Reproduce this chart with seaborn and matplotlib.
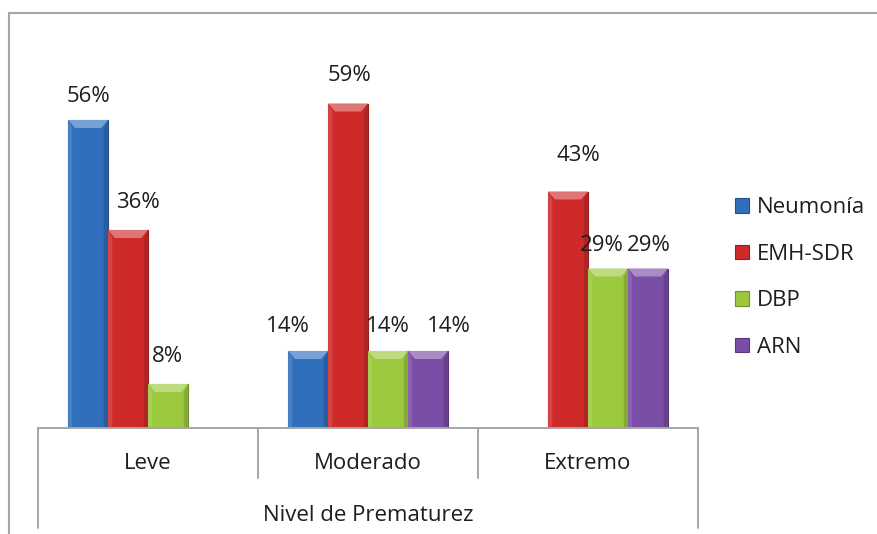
import matplotlib
matplotlib.use("Agg")
import matplotlib.pyplot as plt
from matplotlib.patches import Polygon
from matplotlib.lines import Line2D
import matplotlib.colors as mcolors
import seaborn as sns
import pandas as pd

# ---- data -------------------------------------------------------------
categories = ["Leve", "Moderado", "Extremo"]
series = ["Neumonía", "EMH-SDR", "DBP", "ARN"]
neumonia = [56, 14, 0]
emh_sdr = [36, 59, 43]
dbp = [8, 14, 29]
arn = [0, 14, 29]
x_title = "Nivel de Prematurez"

values = [neumonia, emh_sdr, dbp, arn]
rows = []
for s, vals in zip(series, values):
    for c, v in zip(categories, vals):
        rows.append({"Nivel": c, "Serie": s, "Valor": v})
df = pd.DataFrame(rows)

# ---- style ------------------------------------------------------------
colors = ["#2f6fbc", "#cf2a2a", "#9cc83e", "#7a4da6"]
text_color = "#1e1e1e"
grid_gray = "#a6a6a6"
fs = 16

# label nudges (pixels) per series/category: (dx, dy above bar top)
label_nudge = {
    ("Neumonía", "Leve"): (0, 23), ("EMH-SDR", "Leve"): (10, 28),
    ("DBP", "Leve"): (-1, 27),
    ("Neumonía", "Moderado"): (-20, 24), ("EMH-SDR", "Moderado"): (1, 28),
    ("DBP", "Moderado"): (0, 24), ("ARN", "Moderado"): (21, 24),
    ("EMH-SDR", "Extremo"): (10, 36), ("DBP", "Extremo"): (-6, 23),
    ("ARN", "Extremo"): (1, 23),
}

sns.set_theme(style="white")
plt.rcParams["font.family"] = ["Open Sans", "DejaVu Sans"]
plt.rcParams["text.color"] = text_color

W, H = 878, 534
fig = plt.figure(figsize=(W / 100, H / 100), dpi=100)
fig.patch.set_facecolor("white")

ax_left, ax_right = 38, 698
ax_bottom_px, ax_top_px = 428, 428 - 70 * 5.5
ax = fig.add_axes([ax_left / W, 1 - ax_bottom_px / H,
                   (ax_right - ax_left) / W, (ax_bottom_px - ax_top_px) / H])

sns.barplot(data=df, x="Nivel", y="Valor", hue="Serie", order=categories,
            hue_order=series, palette=colors, width=0.727, saturation=1,
            legend=False, ax=ax, linewidth=0.8, edgecolor="none")

ax.set_xlim(-0.5, len(categories) - 0.5)
ax.set_ylim(0, 70)
ax.set_yticks([])
ax.set_ylabel("")
for sp in ["left", "right", "top"]:
    ax.spines[sp].set_visible(False)
ax.spines["bottom"].set_color(grid_gray)
ax.spines["bottom"].set_linewidth(1.4)

# bevelled look on each bar
bev_y = 8 / 5.5
bev_x = 7 / 220
for si, cont in enumerate(ax.containers):
    base = mcolors.to_rgb(colors[si])
    light = tuple(min(1, c + (1 - c) * 0.35) for c in base)
    dark = tuple(c * 0.72 for c in base)
    for ci, patch in enumerate(cont.patches):
        h = patch.get_height()
        if h <= 0:
            continue
        x0 = patch.get_x()
        w = patch.get_width()
        x1 = x0 + w
        patch.set_edgecolor(dark)
        patch.set_linewidth(0.8)
        top = Polygon([(x0, h), (x1, h), (x1 - bev_x, h - bev_y), (x0 + bev_x, h - bev_y)],
                      closed=True, facecolor=light, edgecolor="none", zorder=patch.get_zorder() + 0.1)
        ax.add_patch(top)
        left = Polygon([(x0, h), (x0 + bev_x * 0.6, h - bev_y), (x0 + bev_x * 0.6, 0), (x0, 0)],
                       closed=True, facecolor=tuple(min(1, c + (1 - c) * 0.12) for c in base),
                       edgecolor="none", zorder=patch.get_zorder() + 0.1)
        ax.add_patch(left)
        right = Polygon([(x1, h), (x1 - bev_x * 0.6, h - bev_y), (x1 - bev_x * 0.6, 0), (x1, 0)],
                        closed=True, facecolor=tuple(c * 0.85 for c in base),
                        edgecolor="none", zorder=patch.get_zorder() + 0.1)
        ax.add_patch(right)
        key = (series[si], categories[ci])
        dx, dy = label_nudge.get(key, (0, 25))
        ax.annotate(f"{h:.0f}%", xy=(x0 + w / 2, h), xytext=(dx, dy),
                    textcoords="offset pixels", ha="center", va="center",
                    fontsize=fs, color=text_color)

# category axis: labels, separators, title
ax.set_xticks(range(len(categories)))
ax.set_xticklabels(categories, fontsize=fs, color=text_color)
ax.tick_params(axis="x", length=0, pad=18)
ax.set_xlabel(x_title, fontsize=fs, color=text_color, labelpad=22)

trans = ax.get_xaxis_transform()
n = len(categories)
for i in range(n + 1):
    xb = i - 0.5
    depth = -100 / (ax_bottom_px - ax_top_px) if i in (0, n) else -50 / (ax_bottom_px - ax_top_px)
    ax.add_line(Line2D([xb, xb], [0, depth], transform=trans, color=grid_gray,
                       lw=1.4, clip_on=False))

# legend
handles = [plt.Rectangle((0, 0), 1, 1, facecolor=c, edgecolor=tuple(v * 0.72 for v in mcolors.to_rgb(c)), lw=0.8)
           for c in colors]
fig.legend(handles, series, loc="center left",
           bbox_to_anchor=(735 / W, 1 - 277.5 / H), frameon=False,
           fontsize=fs, handlelength=0.62, handleheight=0.62,
           handletextpad=0.35, labelspacing=1.15, borderpad=0, borderaxespad=0)

# outer chart frame
fig.add_artist(Line2D([9 / W, 9 / W], [0, 1 - 13 / H], color=grid_gray, lw=1.5))
fig.add_artist(Line2D([9 / W, 1], [1 - 13 / H, 1 - 13 / H], color=grid_gray, lw=1.5))

fig.savefig("out.png", dpi=100, facecolor="white")
